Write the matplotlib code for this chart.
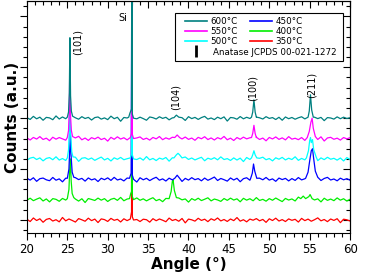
import numpy as np
import matplotlib
matplotlib.use('Agg')
from matplotlib import pyplot as plt
from matplotlib.lines import Line2D
from matplotlib.patches import Rectangle

# series, bottom to top
labels = ['350°C', '400°C', '450°C', '500°C', '550°C', '600°C']
colors = ['#ff0000', '#00ee00', '#0000ff', '#00ffff', '#ff00ff', '#008080']
offsets = [0, 2, 4, 6, 8, 10]

# baseline noise, in 1/100 of a y unit
noise = {
	'350°C': [8,-15,20,-5,12,-22,6,15,-10,3,-18,25,-8,10,-4,-20,14,2,-12,18,-6,9,-25,11,4,-14,16,-3,7,-19,12,-6,22,-10,5,-15,8,3,-21,13,-7,10,-2,-17,19,-5,6,-12,15,-28,9,2,-11,17,-4,8,-16,12,-3,20,-9,5,-14,10,-6,24,-11,3,-18,9,-2,14,-8,6,-23,12,-5,18,-10,4,-15,11,-3,7,-20,16,-6,9,-12,3,21,-8,5,-16,10,-4,13,-26,8,2,-10],
	'400°C': [-6,14,-10,5,18,-13,7,-22,10,3,-16,12,-4,20,-9,6,-14,9,-28,11,2,-8,15,-5,10,-18,4,13,-7,22,-11,6,-3,-15,17,-6,8,-12,5,19,-10,3,-20,12,-5,9,-14,16,-2,7,-24,10,-6,14,-9,4,18,-12,6,-3,-17,11,-7,15,-4,8,-21,13,-5,9,-11,20,-8,3,-15,10,-6,16,-2,-19,12,-4,7,-13,25,-9,5,-16,11,-3,8,-22,14,-7,6,-10,17,-5,9,-14,4],
	'450°C': [10,-8,15,-20,6,12,-5,-14,18,-9,4,-25,11,7,-12,16,-3,9,-18,13,-6,5,-22,10,-4,14,-11,19,-7,3,-16,12,-2,8,-27,15,-5,10,-13,6,20,-9,4,-17,11,-6,14,-3,-21,9,-8,16,-4,7,-15,12,-10,5,22,-12,8,-4,-18,13,-7,10,-24,6,15,-9,3,-14,11,-5,18,-8,4,-20,12,-3,9,-16,7,-11,17,-6,5,-23,13,-4,10,-12,8,19,-7,3,-15,11,-5,6,-9],
	'500°C': [-12,8,16,-6,10,-19,5,13,-8,21,-11,4,-15,9,-3,17,-24,7,12,-5,9,-14,3,18,-10,6,-20,11,-4,15,-8,2,-17,13,-6,10,-12,23,-9,5,-16,8,-3,14,-22,11,-7,6,-13,19,-5,9,-10,4,16,-18,7,-4,12,-9,20,-6,3,-15,10,-11,8,-26,14,-5,9,-13,6,17,-8,4,-19,11,-3,15,-10,7,-6,21,-14,5,-9,12,-4,8,-17,10,-7,16,-3,6,-12,9,-20,13,-5],
	'550°C': [7,-14,11,-5,19,-9,4,-21,13,-6,10,-3,-16,15,-8,6,22,-12,5,-18,9,-4,14,-10,3,-25,12,-7,17,-5,8,-13,10,-20,6,16,-9,4,-15,11,-3,20,-11,7,-6,13,-23,9,-4,15,-8,5,-17,12,-2,18,-10,6,-14,9,-5,21,-12,4,-19,10,-7,14,-3,8,-16,13,-9,5,-22,11,-4,16,-8,7,-13,19,-6,3,-11,10,-18,14,-5,8,-9,17,-24,6,12,-7,4,-15,10,-3,9],
	'600°C': [5,-12,18,-6,10,-20,8,3,-15,22,-8,12,-5,-25,10,4,-10,15,-3,8,-18,6,12,-9,3,-14,20,-5,9,-30,7,2,-11,16,-6,10,-4,-20,12,5,-8,14,-2,9,-16,3,11,-7,5,-22,15,-4,8,-12,6,18,-9,2,-14,10,-5,13,-28,7,3,-10,16,-6,9,-3,-18,11,4,-8,15,-2,6,-13,9,-20,12,-5,7,-10,4,14,-7,3,-16,10,-4,8,-24,6,2,-9,13,-5,10,-3,5],
}

# peaks: (angle, height above baseline)
peaks = {
	'350°C': [
		[(32.8,0.1),(32.95,0.8),(33.0,25),(33.05,0.3),(33.2,0.0)],
	],
	'400°C': [
		[(25.0,0.1),(25.2,1.0),(25.3,3.0),(25.38,4.0),(25.48,1.8),(25.6,0.6),(25.8,0.2)],
		[(32.7,0.1),(32.85,0.6),(32.95,0.8),(33.0,25),(33.05,0.3),(33.2,0.0)],
		[(37.6,0.1),(37.85,0.8),(38.0,1.8),(38.1,1.9),(38.25,0.9),(38.5,0.2)],
		[(53.9,0.1),(54.2,0.35),(54.5,0.1),(54.9,0.3),(55.05,0.5),(55.3,0.1)],
	],
	'450°C': [
		[(25.0,0.1),(25.2,1.0),(25.3,3.0),(25.38,4.5),(25.45,2.5),(25.6,0.7),(25.8,0.2)],
		[(32.7,0.1),(32.9,0.6),(33.0,25),(33.05,0.4),(33.2,0.0)],
		[(38.3,0.1),(38.6,0.4),(38.9,0.1)],
		[(47.7,0.1),(47.9,0.6),(48.05,1.5),(48.2,0.8),(48.45,0.1)],
		[(54.5,0.1),(54.8,0.7),(55.0,1.8),(55.2,2.8),(55.35,3.0),(55.5,2.0),(55.7,0.8),(56.0,0.2)],
	],
	'500°C': [
		[(25.0,0.1),(25.15,0.9),(25.25,3.0),(25.32,5.5),(25.4,2.5),(25.55,0.7),(25.7,0.2)],
		[(32.8,0.1),(32.95,0.5),(33.0,25),(33.05,0.4),(33.2,0.0)],
		[(38.2,0.1),(38.5,0.4),(38.7,0.55),(38.9,0.4),(39.2,0.1)],
		[(47.8,0.1),(47.95,0.4),(48.1,0.8),(48.25,0.4),(48.45,0.1)],
		[(54.6,0.1),(54.85,0.8),(55.0,1.8),(55.1,2.1),(55.2,1.6),(55.35,1.9),(55.5,0.9),(55.8,0.2)],
	],
	'550°C': [
		[(25.0,0.1),(25.15,0.8),(25.25,3.0),(25.3,7.0),(25.38,2.5),(25.5,0.8),(25.65,0.2)],
		[(32.8,0.1),(32.95,0.5),(33.0,25),(33.05,0.4),(33.2,0.0)],
		[(38.3,0.1),(38.6,0.35),(38.9,0.1)],
		[(47.8,0.1),(47.95,0.5),(48.1,1.3),(48.25,0.5),(48.4,0.1)],
		[(54.7,0.1),(54.95,0.7),(55.15,1.6),(55.3,2.0),(55.45,1.0),(55.7,0.2)],
	],
	'600°C': [
		[(25.0,0.1),(25.15,0.6),(25.25,2.5),(25.32,7.9),(25.4,2.2),(25.5,0.7),(25.65,0.2)],
		[(32.6,0.1),(32.75,0.5),(32.85,0.7),(32.95,0.9),(33.0,25),(33.05,0.4),(33.2,0.0)],
		[(38.2,0.05),(38.5,0.3),(38.8,0.1)],
		[(47.8,0.1),(47.95,0.6),(48.1,1.8),(48.25,0.6),(48.4,0.1)],
		[(54.8,0.1),(54.95,0.7),(55.1,2.3),(55.25,0.8),(55.45,0.1)],
	],
}

# hkl labels: (text, angle, y)
hkl = [('(101)', 26.3, 17.5), ('(104)', 38.45, 12.1), ('(100)', 48.0, 13.0), ('(211)', 55.3, 13.3)]


def build(vals, clusters):
	x = np.linspace(20, 60, len(vals))
	y = np.array(vals) / 100.0
	keep = np.ones(len(x), bool)
	px = []
	py = []
	for c in clusters:
		a = [p[0] for p in c]
		keep &= (x < min(a)) | (x > max(a))
		px += a
		py += [p[1] for p in c]
	xx = np.concatenate([x[keep], px])
	yy = np.concatenate([y[keep], py])
	o = np.argsort(xx)
	return xx[o], yy[o]


fig = plt.figure(figsize=(3.74, 2.76), dpi=100)
ax = fig.add_axes([0.072, 0.156, 0.864, 0.840])

lines = {}
for lab, col, off in zip(labels, colors, offsets):
	x, y = build(noise[lab], peaks[lab])
	ln, = ax.plot(x, y + off, color=col, lw=0.9, label=lab)
	lines[lab] = ln

ax.set_xlim(20, 60)
ax.set_ylim(-1.27, 21.5)
ax.set_xticks(np.arange(20, 61, 5))
ax.set_xticks(np.arange(20, 61, 1), minor=True)
ax.set_yticks([0, 5, 10, 15, 20])
ax.set_yticks(np.arange(-1, 22, 1), minor=True)
ax.set_yticklabels([])
ax.tick_params(axis='both', which='both', direction='out', top=False, right=False, labelsize=8.5, pad=2)
ax.tick_params(which='major', length=5, width=0.8)
ax.tick_params(which='minor', length=3, width=0.8)

# inward ticks on top and right
top = ax.secondary_xaxis('top')
top.set_xticks(np.arange(20, 61, 5))
top.set_xticks(np.arange(20, 61, 1), minor=True)
top.tick_params(which='both', direction='in', labeltop=False)
top.tick_params(which='major', length=5, width=0.8)
top.tick_params(which='minor', length=3, width=0.8)
right = ax.secondary_yaxis('right')
right.set_yticks([0, 5, 10, 15, 20])
right.set_yticks(np.arange(-1, 22, 1), minor=True)
right.tick_params(which='both', direction='in', labelright=False)
right.tick_params(which='major', length=5, width=0.8)
right.tick_params(which='minor', length=3, width=0.8)

ax.set_xlabel('Angle (°)', fontsize=11, fontweight='bold', labelpad=1)
ax.set_ylabel('Counts (a.u.)', fontsize=11, fontweight='bold', labelpad=-2)

ax.text(31.9, 19.8, 'Si', fontsize=7, ha='center', va='center')
for t, a, yy in hkl:
	ax.text(a, yy, t, fontsize=7, rotation=90, ha='center', va='center')

# legend frame drawn by hand so the JCPDS line can run across both columns
ax.add_patch(Rectangle((0.458, 0.741), 0.52, 0.207, transform=ax.transAxes,
	facecolor='white', edgecolor='black', lw=0.8, zorder=4.5))

anat = Line2D([], [], color='black', marker='|', markersize=8, markeredgewidth=2, linestyle='none')
blank = Line2D([], [], linestyle='none')
handles = [lines['600°C'], lines['550°C'], lines['500°C'], anat,
	lines['450°C'], lines['400°C'], lines['350°C'], blank]
names = ['600°C', '550°C', '500°C', '', '450°C', '400°C', '350°C', '']
leg = ax.legend(handles, names, ncol=2, fontsize=6.3, loc='upper left',
	bbox_to_anchor=(0.489, 0.933), frameon=False, borderpad=0, borderaxespad=0,
	handlelength=2.5, handletextpad=0.35, columnspacing=1.5, labelspacing=0.12)
for h in leg.legend_handles[:3] + leg.legend_handles[4:7]:
	h.set_linewidth(1.2)
ax.text(0.576, 0.78, 'Anatase JCPDS 00-021-1272', fontsize=6.3, transform=ax.transAxes,
	va='center', ha='left', zorder=6)

fig.savefig('out.png', dpi=100)
